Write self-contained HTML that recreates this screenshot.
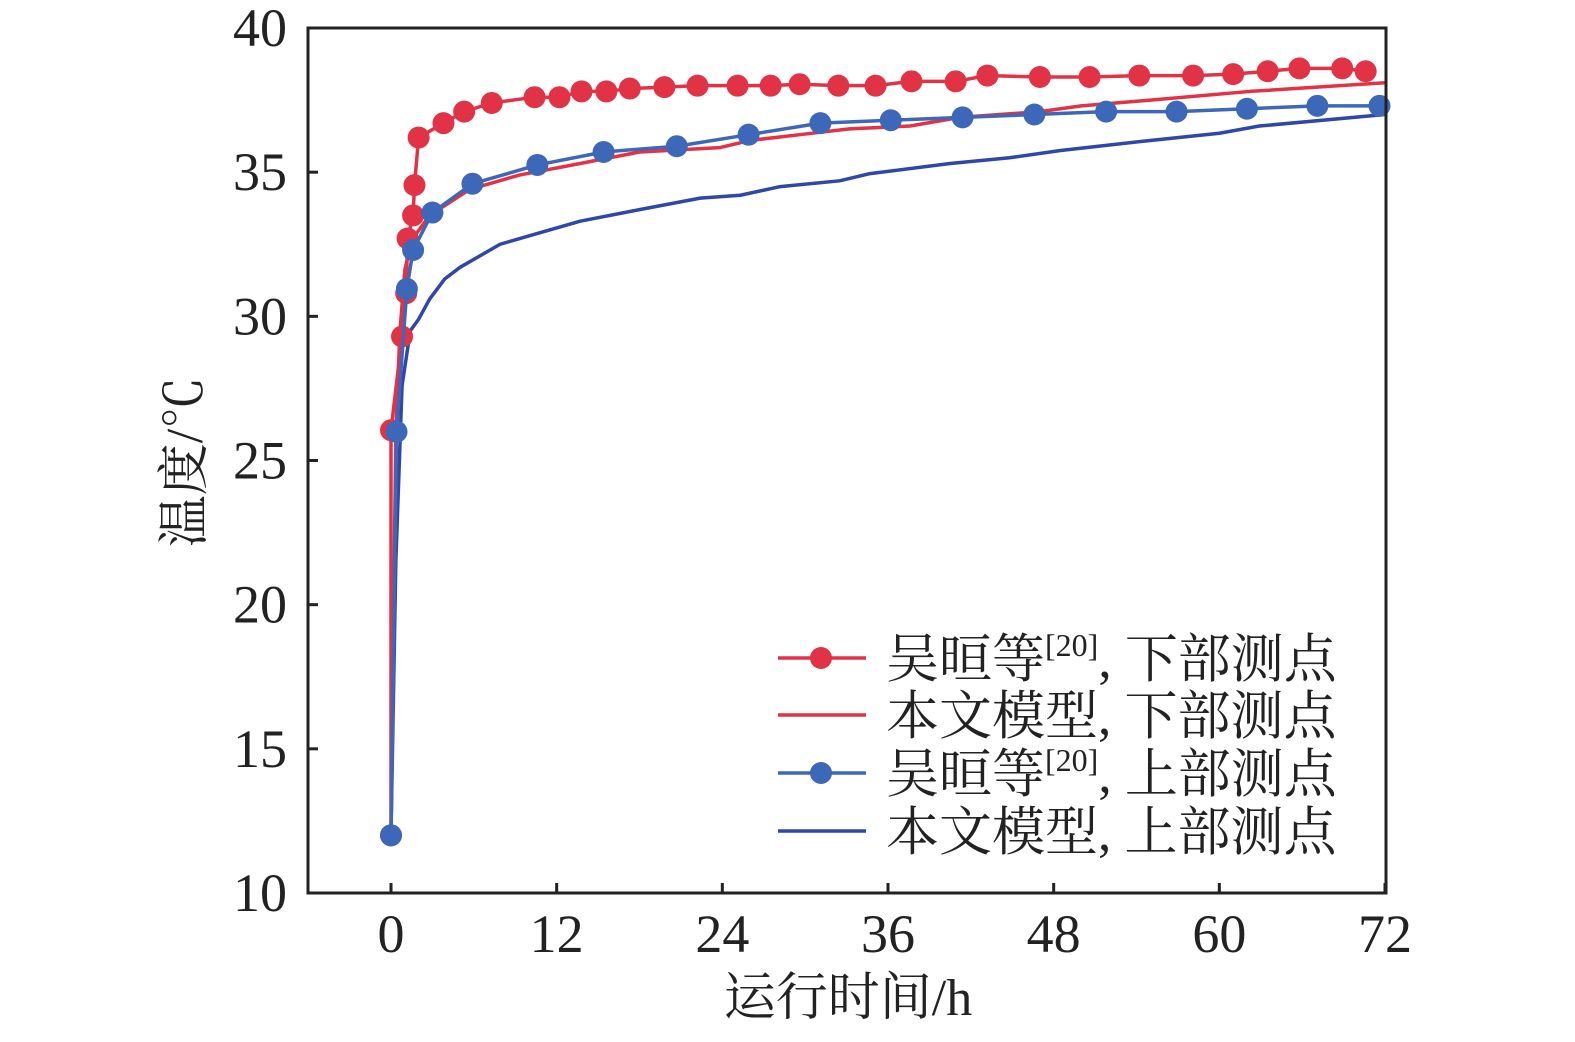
<!DOCTYPE html>
<html><head><meta charset="utf-8"><style>
body{margin:0;background:#fff}
svg text{font-family:"Liberation Serif","Noto Serif CJK SC",serif;fill:#222}
</style></head><body>
<svg width="1575" height="1037" xmlns="http://www.w3.org/2000/svg">
<g id="plot"></g>
</svg>
<script>
const xTicks=[0,12,24,36,48,60,72];
const yTicks=[10,15,20,25,30,35,40];
const redMeasT=[0,0,0.8,1.1,1.2,1.6,1.7,2.0,3.8,5.3,7.3,10.4,12.2,13.8,15.6,17.3,19.8,22.2,25.1,27.5,29.6,32.4,35.1,37.7,40.9,43.2,47.0,50.6,54.2,58.1,61.0,63.5,65.8,68.9,70.6];
const redMeasV=[12,26.05,29.3,30.8,32.7,33.5,34.55,36.2,36.7,37.1,37.4,37.6,37.6,37.8,37.8,37.9,37.95,38.0,38.0,38.0,38.05,38.0,38.0,38.15,38.15,38.35,38.3,38.3,38.35,38.35,38.4,38.5,38.6,38.6,38.5];
const redModelT=[0,0.35,0.65,1,1.5,2.8,5.7,9.3,13.7,18,23.8,26,29.6,33.2,37.6,41.2,47,50,55,62.2,72];
const redModelV=[12,26,29.5,31.6,32.65,33.5,34.4,34.9,35.3,35.7,35.85,36.1,36.3,36.5,36.6,36.9,37.1,37.3,37.5,37.8,38.1];
const blueMeasT=[0,0.4,1.15,1.6,3.0,5.9,10.6,15.4,20.7,25.9,31.1,36.2,41.4,46.6,51.8,56.9,62.0,67.1,71.6];
const blueMeasV=[12,26,30.95,32.3,33.6,34.6,35.25,35.7,35.9,36.3,36.7,36.8,36.9,37.0,37.1,37.1,37.2,37.3,37.3];
const blueModelT=[0,0.35,0.8,1.4,2.0,2.8,3.9,5,7.9,10.8,13.7,18,22.4,25.3,28.2,32.5,34.7,40.5,44.8,48.5,55,60,62.9,72];
const blueModelV=[12,21.5,27.6,29.5,29.9,30.6,31.3,31.7,32.5,32.9,33.3,33.7,34.1,34.2,34.5,34.7,34.95,35.3,35.5,35.75,36.1,36.35,36.6,37.0];
const X0=308,X1=1386,Y0=28,Y1=893;
const xs=t=>391+t*(1385-391)/72;
const ys=v=>Y1-(v-10)*(Y1-Y0)/30;
const NS='http://www.w3.org/2000/svg';
const g=document.getElementById('plot');
function mk(tag,attrs,parent){const e=document.createElementNS(NS,tag);for(const k in attrs)e.setAttribute(k,attrs[k]);(parent||g).appendChild(e);return e;}
function line(T,V,color,name){
 const p=mk('polyline',{points:T.map((t,i)=>xs(t)+','+ys(V[i])).join(' '),fill:'none',stroke:color,'stroke-width':3.5,'stroke-linejoin':'round'});
 
 
}
function dots(T,V,color,name){
 T.forEach((t,i)=>{const c=mk('circle',{cx:xs(t),cy:ys(V[i]),r:11,fill:color});
 
 });
}
const RED='#e23246',BLUE='#3d67b8',BLUE2='#2f47a8';
line(blueModelT,blueModelV,BLUE2,'blue-model-line');
line(redModelT,redModelV,RED,'red-model-line');
line(redMeasT,redMeasV,RED,'red-measured-line');
dots(redMeasT,redMeasV,RED,'red-measured-point');
line(blueMeasT,blueMeasV,BLUE,'blue-measured-line');
dots(blueMeasT,blueMeasV,BLUE,'blue-measured-point');
const fr=mk('rect',{x:X0,y:Y0,width:X1-X0,height:Y1-Y0,fill:'none',stroke:'#222','stroke-width':3});


xTicks.forEach(t=>{
 mk('line',{x1:xs(t),x2:xs(t),y1:Y1,y2:Y1-10,stroke:'#222','stroke-width':3});
 const tx=mk('text',{x:xs(t),y:952,'font-size':54,'text-anchor':'middle'});tx.textContent=t;
 
 
});
yTicks.forEach(v=>{
 mk('line',{x1:X0,x2:X0+10,y1:ys(v),y2:ys(v),stroke:'#222','stroke-width':3});
 const tx=mk('text',{x:287,y:ys(v)+18,'font-size':54,'text-anchor':'end'});tx.textContent=v;
 
 
});
const xt=mk('text',{x:848,y:1015,'font-size':52,'text-anchor':'middle'});xt.textContent='运行时间/h';


const yt=mk('text',{x:0,y:0,'font-size':52,'text-anchor':'middle',transform:'translate(202,462) rotate(-90)'});yt.textContent='温度/℃';


const leg=[['吴晅等','[20]',', 下部测点',RED,true],['本文模型','',', 下部测点',RED,false],['吴晅等','[20]',', 上部测点',BLUE,true],['本文模型','',', 上部测点',BLUE2,false]];
const legY=[658,715,773,831];
leg.forEach((l,i)=>{
 const y=legY[i];
 const gg=mk('g',{});
 
 
 mk('line',{x1:778,x2:866,y1:y,y2:y,stroke:l[3],'stroke-width':3.5},gg);
 if(l[4])mk('circle',{cx:821,cy:y,r:11,fill:l[3]},gg);
 const tx=mk('text',{x:886,y:y+19,'font-size':53},gg);
 const a=mk('tspan',{},tx);a.textContent=l[0];
 if(l[1]){const s=mk('tspan',{'font-size':32,dy:-21},tx);s.textContent=l[1];const r=mk('tspan',{dy:21},tx);r.textContent=l[2];}
 else{const r=mk('tspan',{},tx);r.textContent=l[2];}
});
</script>
</body></html>
